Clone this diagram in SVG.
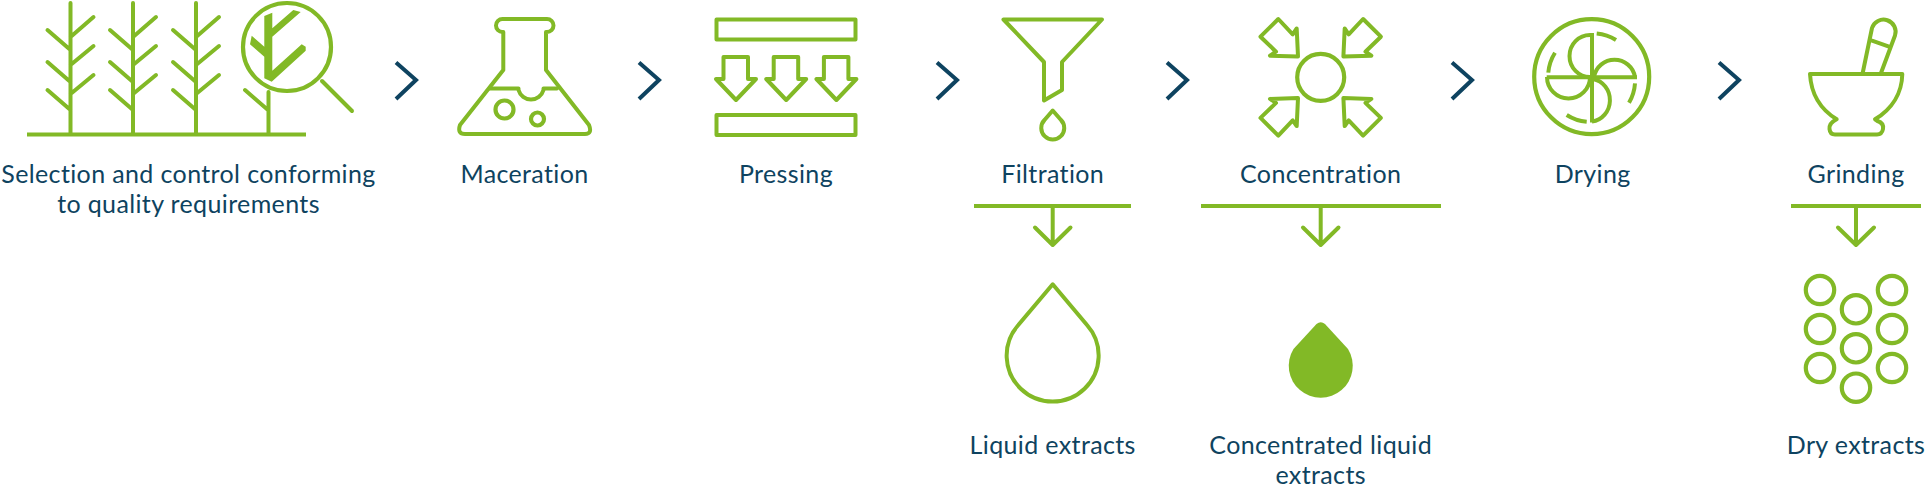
<svg xmlns="http://www.w3.org/2000/svg" xmlns:xlink="http://www.w3.org/1999/xlink" width="1925" height="495" viewBox="0 0 1925 495">
<style>
.l{fill:none;stroke:#82b926;stroke-width:4;stroke-linejoin:round;stroke-linecap:round}
.b{fill:none;stroke:#82b926;stroke-width:4;stroke-linecap:butt;stroke-linejoin:miter}
.c{fill:none;stroke:#0e4360;stroke-width:4;stroke-linejoin:miter;stroke-linecap:butt}
.t{font-family:"Lato","Liberation Sans",sans-serif;font-size:25px;fill:#0e4360;text-anchor:middle;letter-spacing:.37px}
.h{fill:none;stroke:#82b926;stroke-width:4.200}
</style>
<defs>
<g id="plant">
<path class="l" d="M0 3V134M-23 30L0 50M23 17L0 37M-23 62L0 82M23 46L0 65M-23 90L0 110M23 75L0 94"/>
</g>
<path id="parrow" class="l" d="M723.500 57H748V79H756L736 100L716 79H723.500Z"/>
<polygon id="carrow" class="l" points="1278.300,19 1260.500,36.700 1276,51.700 1270,55.700 1298,56.500 1296.700,28.500 1292.700,34.300"/>
<circle id="dot" class="h" r="14.200"/>
</defs>
<g id="connectors">
<path class="c" d="M396 62.500L416 80L396 99"/>
<path class="c" d="M639 62.500L659 80L639 99"/>
<path class="c" d="M937 62.500L957 80L937 99"/>
<path class="c" d="M1167 62.500L1187 80L1167 99"/>
<path class="c" d="M1452 62.500L1472 80L1452 99"/>
<path class="c" d="M1719 62.500L1739 80L1719 99"/>
<path class="h" d="M974 206H1131M1201 206H1441M1791 206H1921"/>
<path class="l" d="M1052.700 207V244M1035 227.500L1052.700 245L1070.500 227.500"/>
<path class="l" d="M1320.700 207V244M1303 227.500L1320.700 245L1338.500 227.500"/>
<path class="l" d="M1856 207V244M1838 227.500L1856 245L1874 227.500"/>
</g>
<g id="node-selection">
<path class="h" d="M27 134.500H306"/>
<use xlink:href="#plant" x="70.500"/><use xlink:href="#plant" x="133"/><use xlink:href="#plant" x="196"/>
<path class="l" d="M268.500 92V134M245 90L268 110"/>
<circle class="h" cx="287" cy="47" r="44"/>
<path class="l" d="M322 81L352 111"/>
<polygon fill="#82b926" points="264.300,16 272.300,12.700 272.300,28.300 293.300,10 300.700,12 272.300,36.700 272.300,70.700 301.700,44.300 305.700,46.700 305.700,50.700 271.700,81.700 264.300,78.300 264.300,56.700 250,44.300 251.700,35.700 264.300,46.700"/>
<text class="t" x="188.500" y="182.500">Selection and control conforming</text>
<text class="t" x="188.500" y="213">to quality requirements</text>
</g>
<g id="node-maceration">
<path class="l" d="M503.300 32H502.500a6.500 6.500 0 0 1 0-13H547a6.500 6.500 0 0 1 0 13H546V70L589 125Q592.500 134 585 134H465Q457 134 460 125L503.300 70Z"/>
<path class="l" d="M490 88.500H518.500V90a13 13 0 0 0 25 0V88.500H557"/>
<circle class="h" cx="504.500" cy="109.500" r="9"/>
<circle class="h" cx="537.500" cy="119" r="6.500"/>
<text class="t" x="524.500" y="182.500">Maceration</text>
</g>
<g id="node-pressing">
<rect class="l" x="716.500" y="19.500" width="139" height="20"/>
<rect class="l" x="716.500" y="115" width="139" height="20"/>
<use xlink:href="#parrow"/><use xlink:href="#parrow" x="50.200"/><use xlink:href="#parrow" x="100.400"/>
<text class="t" x="786" y="182.500">Pressing</text>
</g>
<g id="node-filtration">
<path class="l" d="M1003.500 19.500H1102L1062 62V90L1044 100.500V62Z"/>
<path class="l" d="M1052.700 110.500L1044.500 120A11.500 11.500 0 1 0 1061 120Z"/>
<text class="t" x="1052.700" y="182.500">Filtration</text>
</g>
<g id="node-concentration">
<circle class="h" cx="1320.700" cy="77.300" r="23.500"/>
<use xlink:href="#carrow"/>
<use xlink:href="#carrow" transform="matrix(-1 0 0 1 2641.400 0)"/>
<use xlink:href="#carrow" transform="matrix(1 0 0 -1 0 154.600)"/>
<use xlink:href="#carrow" transform="matrix(-1 0 0 -1 2641.400 154.600)"/>
<text class="t" x="1320.700" y="182.500">Concentration</text>
</g>
<g id="node-drying">
<circle class="h" cx="1591.700" cy="76.700" r="57.500"/>
<path class="b" d="M1546.700 77.300H1637M1592 33V122.500"/>
<path class="b" d="M1590 35A20.500 21 0 0 0 1590 77M1594 77A20.800 20.800 0 0 1 1635 77M1547 77A21.500 21.500 0 0 0 1590 77M1593 79A20.500 21.500 0 0 1 1592 121.500"/>
<path class="b" d="M1596.700 33.500A44 44 0 0 1 1616 40M1635 83.300A44 44 0 0 1 1629 102.700M1566.700 115A44 44 0 0 0 1586.700 121.700M1555 52.700A44 44 0 0 0 1548.300 72.700"/>
<text class="t" x="1592.700" y="182.500">Drying</text>
</g>
<g id="node-grinding">
<path class="l" d="M1810 74H1902.300C1902 93 1892 109 1875 119.300L1877.500 121Q1884 123 1883 129Q1882 134.500 1877 134.500H1835Q1830 134.500 1829.500 129Q1829 123 1836.700 119.300C1820 109 1811 93 1810 74Z"/>
<path class="l" d="M1862.700 73L1872 28A12 12 0 0 1 1895 35.500L1881 73M1872 40.700L1889 46.700"/>
<text class="t" x="1856" y="182.500">Grinding</text>
</g>
<g id="node-liquid">
<path class="l" d="M1052.700 284.300L1018.300 325A46 46 0 1 0 1087 325Z"/>
<text class="t" x="1052.700" y="454">Liquid extracts</text>
</g>
<g id="node-concentrated">
<path fill="#82b926" d="M1316.500 324Q1320.700 320.500 1325 324L1348 349A32 32 0 1 1 1293.500 349Z"/>
<text class="t" x="1320.700" y="454">Concentrated liquid</text>
<text class="t" x="1320.700" y="484">extracts</text>
</g>
<g id="node-dry">
<use xlink:href="#dot" x="1820" y="290"/><use xlink:href="#dot" x="1892" y="290"/><use xlink:href="#dot" x="1856" y="309.300"/>
<use xlink:href="#dot" x="1820" y="329"/><use xlink:href="#dot" x="1892" y="329"/><use xlink:href="#dot" x="1856" y="348.300"/>
<use xlink:href="#dot" x="1820" y="368"/><use xlink:href="#dot" x="1892" y="368"/><use xlink:href="#dot" x="1856" y="387.700"/>
<text class="t" x="1856" y="454">Dry extracts</text>
</g>
</svg>
